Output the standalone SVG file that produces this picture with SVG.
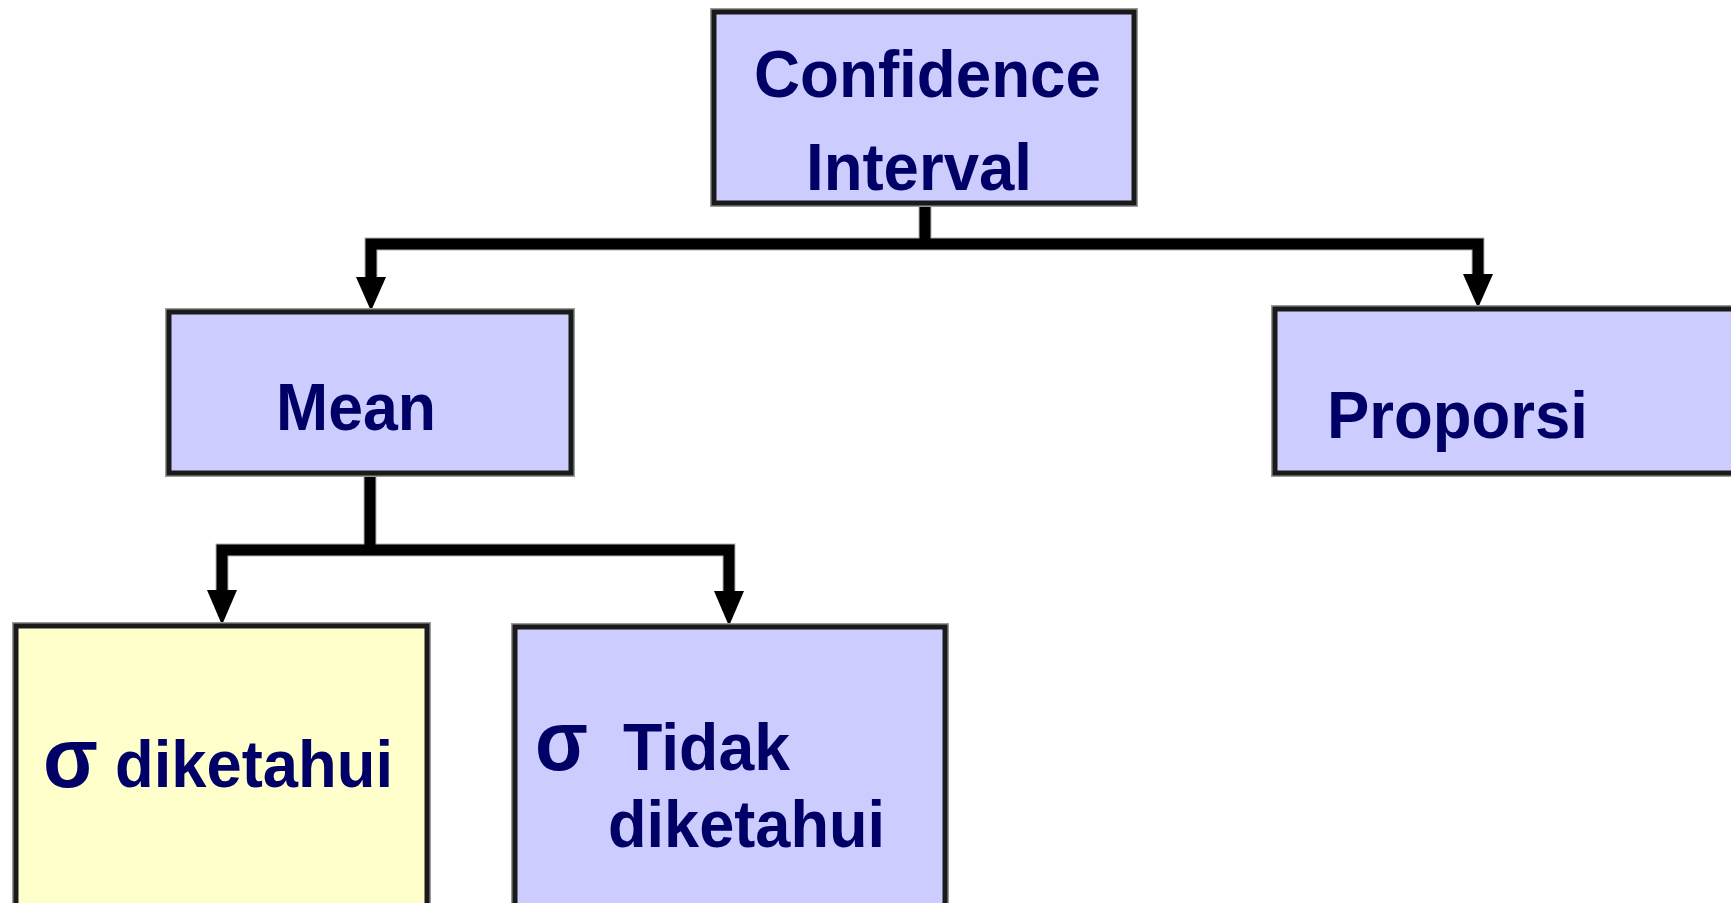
<svg xmlns="http://www.w3.org/2000/svg" width="1731" height="903" viewBox="0 0 1731 903">
<style>
.halo{fill:none;stroke:#9a9a9a;stroke-width:8}
.box{stroke:#1a1a1a;stroke-width:5}
.blue{fill:#CCCCFF}
.yellow{fill:#FFFFCC}
.lbl{font-family:"Liberation Sans",Arial,sans-serif;font-weight:bold;font-size:66px;fill:#000066}
.sig{font-size:86px}
.wsh{fill:none;stroke:#b4b4b4;stroke-width:13}
.wire{fill:none;stroke:#000000;stroke-width:11;stroke-linejoin:miter}
.head{fill:#000000}
</style>
<rect width="1731" height="903" fill="#ffffff"/>
<g id="connectors">
<path class="wsh" d="M925 203V244M371 277V244H1478V274M370 473V550M222 590V550H729V591"/>
<path class="wire" d="M925 203V244M371 277V244H1478V274M370 473V550M222 590V550H729V591"/>
<polygon class="head" points="356,277 386,277 371,311"/>
<polygon class="head" points="1463,274 1493,274 1478,308"/>
<polygon class="head" points="207,590 237,590 222,625"/>
<polygon class="head" points="714,591 744,591 729,626"/>
</g>
<g id="node-confidence-interval">
<rect class="halo" x="714" y="12" width="420" height="191"/>
<rect class="box blue" x="714" y="12" width="420" height="191"/>
<text class="lbl" x="754" y="97" textLength="347" lengthAdjust="spacingAndGlyphs">Confidence</text>
<text class="lbl" x="806" y="190" textLength="226" lengthAdjust="spacingAndGlyphs">Interval</text>
</g>
<g id="node-mean">
<rect class="halo" x="169" y="312" width="402" height="161"/>
<rect class="box blue" x="169" y="312" width="402" height="161"/>
<text class="lbl" x="276" y="430" textLength="160" lengthAdjust="spacingAndGlyphs">Mean</text>
</g>
<g id="node-proporsi">
<rect class="halo" x="1275" y="309" width="520" height="164"/>
<rect class="box blue" x="1275" y="309" width="520" height="164"/>
<text class="lbl" x="1327" y="438" textLength="261" lengthAdjust="spacingAndGlyphs">Proporsi</text>
</g>
<g id="node-sigma-diketahui">
<rect class="halo" x="16" y="626" width="411" height="320"/>
<rect class="box yellow" x="16" y="626" width="411" height="320"/>
<text class="lbl sig" x="43" y="787" textLength="55" lengthAdjust="spacingAndGlyphs">σ</text>
<text class="lbl" x="115" y="787" textLength="278" lengthAdjust="spacingAndGlyphs">diketahui</text>
</g>
<g id="node-sigma-tidak-diketahui">
<rect class="halo" x="515" y="627" width="430" height="320"/>
<rect class="box blue" x="515" y="627" width="430" height="320"/>
<text class="lbl sig" x="535" y="770" textLength="53" lengthAdjust="spacingAndGlyphs">σ</text>
<text class="lbl" x="623" y="770" textLength="167" lengthAdjust="spacingAndGlyphs">Tidak</text>
<text class="lbl" x="608" y="847" textLength="277" lengthAdjust="spacingAndGlyphs">diketahui</text>
</g>
</svg>
